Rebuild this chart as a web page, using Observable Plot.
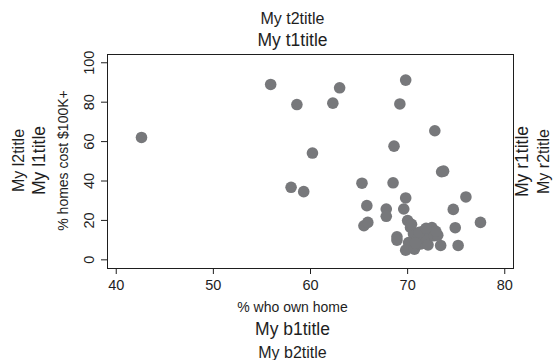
<!DOCTYPE html>
<html>
<head>
<meta charset="utf-8">
<script src="https://cdn.jsdelivr.net/npm/d3@7"></script>
<script src="https://cdn.jsdelivr.net/npm/@observablehq/plot@0.6"></script>
<style>
  html, body { margin: 0; padding: 0; background: #fff; }
  #chart svg { display: block; }
</style>
</head>
<body>
<div id="chart"></div>
<script>
// % who own home
const ownHome = [42.6, 55.9, 58.6, 58.0, 59.3, 60.2, 62.3, 63.0, 69.8, 69.2,
  72.8, 68.6, 73.5, 73.7, 65.3, 68.5, 69.8, 76.0, 65.8, 67.8,
  67.8, 69.6, 74.7, 65.5, 65.9, 77.5, 74.9, 75.2, 68.9, 68.9,
  70.0, 70.3, 70.6, 70.1, 69.8, 70.7, 71.3, 71.0, 71.5, 71.7,
  72.0, 72.1, 72.5, 72.7, 73.4, 73.1, 71.2, 70.4, 72.9, 71.9, 70.8];
// % homes cost $100K+
const propVal = [62.1, 89.0, 78.8, 36.8, 34.6, 54.2, 79.5, 87.3, 91.2, 79.1,
  65.5, 57.7, 44.7, 45.0, 38.9, 39.1, 31.4, 31.9, 27.5, 25.8,
  22.1, 25.8, 25.6, 17.3, 19.0, 19.0, 16.3, 7.3, 11.7, 10.0,
  19.9, 16.4, 13.1, 8.8, 4.9, 5.4, 8.0, 10.5, 11.3, 14.8,
  10.5, 7.6, 16.4, 12.2, 7.3, 12.5, 14.0, 18.0, 14.5, 16.0, 8.5];

const xTicks = [40, 50, 60, 70, 80];
const yTicks = [0, 20, 40, 60, 80, 100];

const xTitle = "% who own home";
const yTitle = "% homes cost $100K+";
const t1 = "My t1title", t2 = "My t2title";
const b1 = "My b1title", b2 = "My b2title";
const l1 = "My l1title", l2 = "My l2title";
const r1 = "My r1title", r2 = "My r2title";

const data = ownHome.map((x, i) => ({x, y: propVal[i]}));

const ink = "#1e1e1e";
const font = "'Liberation Sans', Arial, Helvetica, sans-serif";

function label(txt, opts) {
  return Plot.text([txt], Object.assign({text: d => d, fill: ink, textAnchor: "middle", lineAnchor: "middle"}, opts));
}

const plot = Plot.plot({
  width: 555,
  height: 360,
  marginLeft: 107,
  marginRight: 42,
  marginTop: 54,
  marginBottom: 92,
  style: {fontFamily: font, background: "#fff", color: ink},
  x: {domain: [39.1, 80.9], axis: null},
  y: {domain: [-4.4, 104.2], axis: null},
  marks: [
    Plot.axisX(xTicks, {tickSize: 6, tickFormat: () => "", label: null, stroke: ink}),
    Plot.axisY(yTicks, {tickSize: 6, tickFormat: () => "", label: null, stroke: ink}),
    Plot.text(xTicks, {x: d => d, frameAnchor: "bottom", dy: 17, text: d => String(d), fontSize: 14.5, fill: ink, lineAnchor: "middle"}),
    Plot.text(yTicks, {y: d => d, frameAnchor: "left", dx: -18, rotate: -90, text: d => String(d), fontSize: 14.5, fill: ink, lineAnchor: "middle", textAnchor: "middle"}),
    Plot.dot(data, {x: "x", y: "y", r: 5.8, fill: "#77787b", stroke: "none"}),
    Plot.frame({stroke: ink, strokeWidth: 1}),
    // axis titles
    label(xTitle, {frameAnchor: "bottom", dx: -18, dy: 39, fontSize: 14}),
    label(yTitle, {frameAnchor: "left", dx: -44, dy: -1, rotate: -90, fontSize: 14}),
    // outer titles
    label(t1, {frameAnchor: "top", dx: -18, dy: -14, fontSize: 17.5}),
    label(t2, {frameAnchor: "top", dx: -18, dy: -36, fontSize: 16}),
    label(b1, {frameAnchor: "bottom", dx: -18, dy: 61, fontSize: 17.5}),
    label(b2, {frameAnchor: "bottom", dx: -18, dy: 84, fontSize: 16}),
    label(l1, {frameAnchor: "left", dx: -68, dy: -1, rotate: -90, fontSize: 17.5}),
    label(l2, {frameAnchor: "left", dx: -89, dy: -1, rotate: -90, fontSize: 16}),
    label(r1, {frameAnchor: "right", dx: 9, dy: 0, rotate: -90, fontSize: 17.5}),
    label(r2, {frameAnchor: "right", dx: 30, dy: 0, rotate: -90, fontSize: 16})
  ]
});

document.getElementById("chart").appendChild(plot);
</script>
</body>
</html>
